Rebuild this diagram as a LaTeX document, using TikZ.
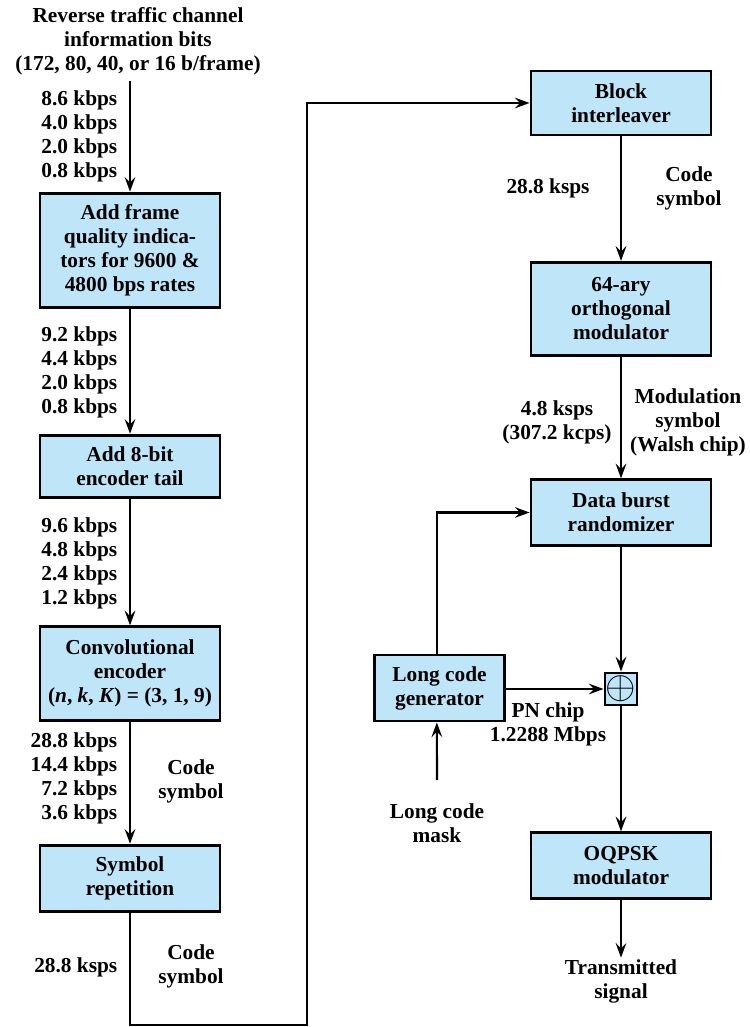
\documentclass[tikz,border=0pt]{standalone}
\usepackage{fontspec}
\setmainfont{Liberation Serif}
\usetikzlibrary{arrows.meta}
\definecolor{boxblue}{RGB}{190,229,248}
\begin{document}
\begin{tikzpicture}[x=0.75pt,y=-0.75pt,
    every node/.style={font=\fontsize{16}{18}\selectfont\bfseries, align=center},
    block/.style={draw, line width=2.2pt, fill=boxblue, minimum width=135pt, inner sep=0pt},
    flow/.style={line width=1.6pt, -{Stealth[length=11pt,width=8pt,inset=4pt]}},
    rate/.style={anchor=east, align=right}]
    \useasboundingbox (0,0) rectangle (749,1027);

    % Left column
    \node (title) at (138,41) {Reverse traffic channel\\information bits\\(172, 80, 40, or 16 b/frame)};
    \coordinate (src) at (130,81);
    \node[block, minimum height=86pt] (frame) at (130,250.5) {Add frame\\quality indica-\\tors for 9600 \&\\4800 bps rates};
    \node[block, minimum height=47pt] (tail) at (130,466.5) {Add 8-bit\\encoder tail};
    \node[block, minimum height=70pt] (conv) at (130,673.5) {Convolutional\\encoder\\(\textit{n}, \textit{k}, \textit{K}) = (3, 1, 9)};
    \node[block, minimum height=50pt] (rep) at (130,878.5) {Symbol\\repetition};

    % Rates beside the left arrows
    \node[rate] (r1) at (122,136) {8.6 kbps\\4.0 kbps\\2.0 kbps\\0.8 kbps};
    \node[rate] (r2) at (122,372) {9.2 kbps\\4.4 kbps\\2.0 kbps\\0.8 kbps};
    \node[rate] (r3) at (122,563) {9.6 kbps\\4.8 kbps\\2.4 kbps\\1.2 kbps};
    \node[rate] (r4) at (122,778.5) {28.8 kbps\\14.4 kbps\\7.2 kbps\\3.6 kbps};
    \node (cs1) at (191,781.5) {Code\\symbol};
    \node[rate] (r5) at (122,967) {28.8 ksps};
    \node (cs2) at (191,966.5) {Code\\symbol};

    % Right column
    \node[block, minimum height=48pt] (inter) at (621,103) {Block\\interleaver};
    \node[block, minimum height=70pt] (walsh) at (621,309) {64-ary\\orthogonal\\modulator};
    \node[block, minimum height=49pt] (burst) at (621,512.5) {Data burst\\randomizer};
    \node[draw, line width=2.2pt, fill=boxblue, minimum size=24pt, inner sep=0pt] (xor) at (621,689) {\scalebox{1.7}{$\oplus$}};
    \node[block, minimum width=97pt, minimum height=49.5pt] (lcg) at (439.5,688) {Long code\\generator};
    \node[block, minimum height=49pt] (oqpsk) at (621,865.5) {OQPSK\\modulator};
    \node (mask) at (437,823.5) {Long code\\mask};
    \coordinate (maskin) at (437,780);
    \node[inner sep=1pt] (tx) at (621,981) {Transmitted\\signal};

    % Labels on the right
    \node (r6) at (548,188) {28.8 ksps};
    \node (cs3) at (689,188.5) {Code\\symbol};
    \node (r7) at (557,422) {4.8 ksps\\(307.2 kcps)};
    \node (mod) at (688,422) {Modulation\\symbol\\(Walsh chip)};
    \node (pn) at (548,724.5) {PN chip\\1.2288 Mbps};

    % Connectors
    \coordinate (turn) at (307,1025);
    \draw[flow] (src) -- (frame);
    \draw[flow] (frame) -- (tail);
    \draw[flow] (tail) -- (conv);
    \draw[flow] (conv) -- (rep);
    \draw[flow] (rep.south) |- (turn) |- (inter.west);
    \draw[flow] (inter) -- (walsh);
    \draw[flow] (walsh) -- (burst);
    \draw[flow] (burst) -- (xor);
    \draw[flow] (xor) -- (oqpsk);
    \draw[flow] (oqpsk) -- (tx);
    \draw[flow] ([xshift=-2pt]lcg.north) |- (burst.west);
    \draw[flow] (lcg.east |- xor) -- (xor.west);
    \draw[flow] (maskin) -- ([xshift=-2pt]lcg.south);
\end{tikzpicture}
\end{document}
